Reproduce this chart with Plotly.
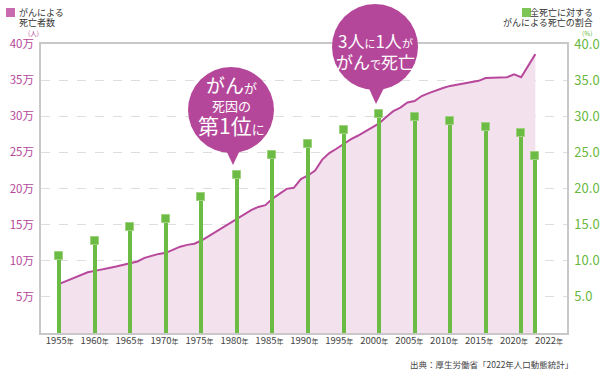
import plotly.graph_objects as go

# ---------------- data ----------------
line_years = list(range(1955, 2021)) + [2022]
deaths_man = [6.8, 7.2, 7.5, 8.0, 8.4, 8.6, 8.75, 9.0, 9.2, 9.4,
              9.6, 9.9, 10.4, 10.7, 10.95, 11.1, 11.5, 11.95, 12.2, 12.35,
              12.8, 13.4, 14.0, 14.6, 15.2, 15.8, 16.4, 17.0, 17.45, 17.7,
              18.6, 19.3, 19.95, 20.1, 21.3, 21.8, 22.5, 24.0, 24.9, 25.5,
              26.2, 26.8, 27.3, 27.9, 28.4, 29.0, 29.9, 30.7, 31.2, 31.9,
              32.1, 32.8, 33.2, 33.6, 33.9, 34.2, 34.4, 34.6, 34.8, 34.9,
              35.3, 35.35, 35.4, 35.4, 35.8, 35.4, 38.6]

bar_years = [1955, 1960, 1965, 1970, 1975, 1980, 1985, 1990, 1995,
             2000, 2005, 2010, 2015, 2020, 2022]
share_pct = [11.2, 13.3, 15.2, 16.4, 19.4, 22.4, 25.2, 26.7, 28.7,
             30.9, 30.5, 29.9, 29.0, 28.2, 25.1]

tick_labels = [f"{y}<span style='font-size:7px'>年</span>" for y in bar_years]
left_ticks = [5, 10, 15, 20, 25, 30, 35, 40]
left_text = [f"{v}万" for v in left_ticks]
right_text = [f"{v:.1f}" for v in left_ticks]

# ---------------- style ----------------
FONT = "Noto Sans CJK JP"
PINK = "#b8489c"
PINK_FILL = "#f3e2ee"
BUBBLE = "#b5479a"
GREEN = "#6cbb45"
GREEN_TXT = "#6ab83f"

L, R, T, B = 41, 567, 44, 333
W, H = R - L, B - T
X0, X1 = 1952.42, 2026.45
px_per_year = W / (X1 - X0)
px_per_unit = H / 40.0


def px(x):
    return (x - L) / W


def py(y):
    return (B - y) / H


cap_h = 8 / px_per_unit
fig = go.Figure()

fig.add_trace(go.Scatter(
    x=line_years, y=deaths_man, mode="lines", fill="tozeroy",
    fillcolor=PINK_FILL, line=dict(color=PINK, width=2),
    xaxis="x", yaxis="y", hoverinfo="skip", showlegend=False))

# invisible trace to register category tick labels
fig.add_trace(go.Scatter(
    x=tick_labels, y=[0] * len(tick_labels), mode="markers",
    marker=dict(opacity=0), xaxis="x2", yaxis="y",
    hoverinfo="skip", showlegend=False))

fig.add_trace(go.Bar(
    x=bar_years, y=share_pct, width=4 / px_per_year,
    marker=dict(color=GREEN, line=dict(width=0)),
    xaxis="x", yaxis="y2", hoverinfo="skip", showlegend=False))

fig.add_trace(go.Bar(
    x=bar_years, y=[cap_h] * len(share_pct),
    base=[v - cap_h for v in share_pct], width=8 / px_per_year,
    marker=dict(color=GREEN, line=dict(width=1, color="#9fd27f")),
    xaxis="x", yaxis="y2", hoverinfo="skip", showlegend=False))

fig.update_layout(
    width=600, height=372, autosize=False,
    margin=dict(l=L, r=600 - R, t=T, b=372 - B, autoexpand=False),
    paper_bgcolor="white", plot_bgcolor="white",
    barmode="overlay", bargap=0,
    font=dict(family=FONT, color="#444"),
    xaxis=dict(range=[X0, X1], showticklabels=False, ticks="",
               showgrid=False, zeroline=False, showline=True,
               linecolor="#c8c8c8", linewidth=1.5, mirror=True,
               automargin=False),
    xaxis2=dict(type="category", overlaying="x", anchor="y", side="bottom",
                range=[-0.535, 14.515], showgrid=False, showline=False,
                zeroline=False, ticks="", automargin=False,
                tickfont=dict(size=9.5, color="#444")),
    yaxis=dict(range=[0, 40], tickvals=left_ticks, ticktext=left_text,
               tickfont=dict(size=11.5, color=BUBBLE), showgrid=True,
               gridcolor="#dedede", griddash="dash", gridwidth=1,
               zeroline=False, showline=True, linecolor="#c8c8c8",
               linewidth=1.5, ticks="", ticklabelstandoff=3,
               automargin=False),
    yaxis2=dict(range=[0, 40], overlaying="y", side="right",
                tickvals=left_ticks, ticktext=right_text,
                tickfont=dict(size=13, color=GREEN_TXT), showgrid=False,
                zeroline=False, showline=True, linecolor="#c8c8c8",
                linewidth=1.5, ticks="", ticklabelstandoff=3,
                automargin=False),
)

shapes = []
# bubble 1
shapes.append(dict(type="circle", xref="paper", yref="paper",
                   x0=px(188), x1=px(274), y0=py(153), y1=py(67),
                   fillcolor=BUBBLE, line=dict(width=0), layer="above"))
shapes.append(dict(type="path", xref="paper", yref="paper",
                   path=f"M {px(224)},{py(146)} L {px(242)},{py(146)} L {px(233)},{py(165)} Z",
                   fillcolor=BUBBLE, line=dict(width=0), layer="above"))
# bubble 2
shapes.append(dict(type="circle", xref="paper", yref="paper",
                   x0=px(332), x1=px(418), y0=py(90), y1=py(4),
                   fillcolor=BUBBLE, line=dict(width=0), layer="above"))
shapes.append(dict(type="path", xref="paper", yref="paper",
                   path=f"M {px(367)},{py(84)} L {px(386)},{py(84)} L {px(376)},{py(104)} Z",
                   fillcolor=BUBBLE, line=dict(width=0), layer="above"))
# legend squares
shapes.append(dict(type="rect", xref="paper", yref="paper",
                   x0=px(6), x1=px(15), y0=py(17), y1=py(8),
                   fillcolor="#c96bb1", line=dict(width=0)))
shapes.append(dict(type="rect", xref="paper", yref="paper",
                   x0=px(522), x1=px(531), y0=py(17), y1=py(8),
                   fillcolor="#7ec558", line=dict(width=0)))
fig.update_layout(shapes=shapes)

ann = []


def add_text(x, y, text, size, color, xanchor="center"):
    ann.append(dict(xref="paper", yref="paper", x=px(x), y=py(y), text=text,
                    showarrow=False, xanchor=xanchor, yanchor="middle",
                    borderpad=0,
                    font=dict(family=FONT, size=size, color=color)))


W_ = "white"
add_text(231, 85, "がん<span style='font-size:13px'>が</span>", 19, W_)
add_text(231, 105, "死因の", 13, W_)
add_text(231, 125, "第1位<span style='font-size:13px'>に</span>", 21, W_)
add_text(375, 40, "3人<span style='font-size:11px'>に</span>1人<span style='font-size:11px'>が</span>", 17, W_)
add_text(375, 61, "がん<span style='font-size:11px'>で</span>死亡", 17, W_)

add_text(18, 12, "がんによる", 9, "#333", "left")
add_text(18, 22.5, "死亡者数", 9, "#333", "left")
add_text(33, 33, "(人)", 6.5, BUBBLE)
add_text(594, 12, "全死亡に対する", 9, "#333", "right")
add_text(594, 22.5, "がんによる死亡の割合", 9, "#333", "right")
add_text(593, 33, "(%)", 6.5, GREEN_TXT, "right")
add_text(574, 364, "出典：厚生労働省「2022年人口動態統計」", 8.5, "#444", "right")
fig.update_layout(annotations=ann)

fig.write_html("out.html", config={"responsive": False, "displayModeBar": False},
               post_script="document.body.style.margin='0px';")
